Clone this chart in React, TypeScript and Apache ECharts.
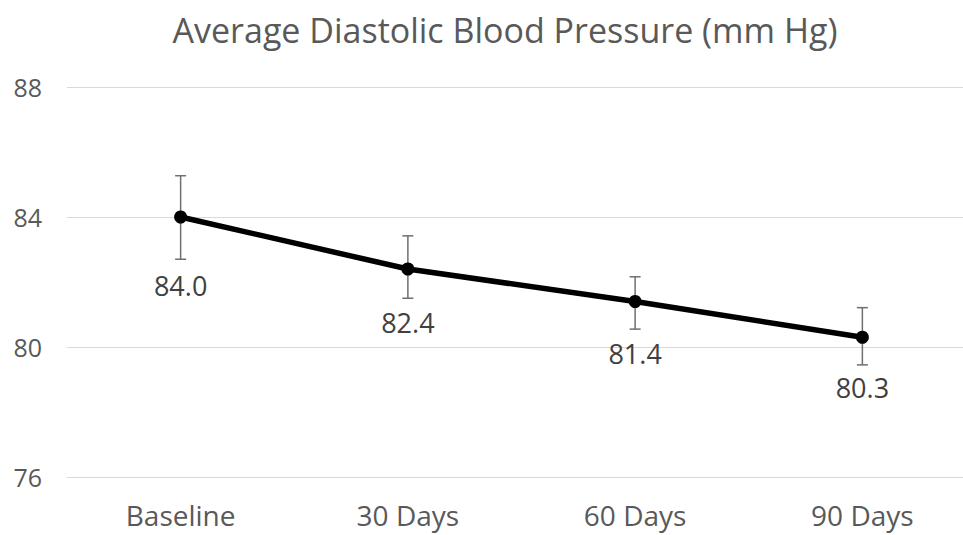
import React, { useEffect, useRef } from "react";
import * as echarts from "echarts";

const categories = ["Baseline", "30 Days", "60 Days", "90 Days"];
const values = [84.0, 82.4, 81.4, 80.3];
const errorLow = [82.7, 81.5, 80.55, 79.45];
const errorHigh = [85.27, 83.42, 82.16, 81.21];
const yTicks = { min: 76, max: 88, interval: 4 };
const titleText = "Average Diastolic Blood Pressure (mm Hg)";

// label offsets (style only)
const labelDistances = [48, 33, 32, 30];

export default function App() {
  const ref = useRef<HTMLDivElement>(null);
  useEffect(() => {
    if (!ref.current) return;
    const chart = echarts.init(ref.current, null, { renderer: "svg" });
    const errData = categories.map((_, i) => [i, errorLow[i], errorHigh[i]]);
    const lineData = values.map((v, i) => ({ value: v, label: { distance: labelDistances[i] } }));
    chart.setOption({
      animation: false,
      backgroundColor: "#ffffff",
      textStyle: { fontFamily: "Open Sans" },
      title: {
        text: titleText,
        left: 500,
        textAlign: "center",
        top: 8,
        textStyle: { fontSize: 34, fontWeight: "normal", color: "#595959", fontFamily: "Open Sans" },
      },
      grid: { left: 67, top: 87, right: 0, bottom: 58, containLabel: false },
      xAxis: {
        type: "category",
        data: categories,
        axisLine: { show: true, lineStyle: { color: "#d9d9d9", width: 1 } },
        axisTick: { show: false },
        axisLabel: { fontSize: 28, lineHeight: 28, color: "#595959", margin: 24, fontFamily: "Open Sans" },
      },
      yAxis: {
        type: "value",
        min: yTicks.min,
        max: yTicks.max,
        interval: yTicks.interval,
        axisLine: { show: false },
        axisTick: { show: false },
        splitLine: { lineStyle: { color: "#d9d9d9", width: 1 } },
        axisLabel: { fontSize: 25, color: "#595959", margin: 25, fontFamily: "Open Sans" },
      },
      series: [
        {
          type: "custom",
          z: 1,
          data: errData,
          renderItem: (params: any, api: any) => {
            const x = api.value(0);
            const lo = api.coord([x, api.value(1)]);
            const hi = api.coord([x, api.value(2)]);
            const cap = 5.5;
            const style = { stroke: "#6f6f6f", lineWidth: 1.5 };
            return {
              type: "group",
              children: [
                { type: "line", shape: { x1: hi[0], y1: hi[1], x2: lo[0], y2: lo[1] }, style },
                { type: "line", shape: { x1: hi[0] - cap, y1: hi[1], x2: hi[0] + cap, y2: hi[1] }, style },
                { type: "line", shape: { x1: lo[0] - cap, y1: lo[1], x2: lo[0] + cap, y2: lo[1] }, style },
              ],
            };
          },
        },
        {
          type: "line",
          z: 3,
          data: lineData,
          symbol: "circle",
          symbolSize: 13,
          lineStyle: { color: "#000000", width: 5.5 },
          itemStyle: { color: "#000000" },
          label: {
            show: true,
            position: "bottom",
            fontSize: 27,
            color: "#404040",
            fontFamily: "Open Sans",
            formatter: (p: any) => Number(p.value).toFixed(1),
          },
        },
      ],
    });
    return () => chart.dispose();
  }, []);
  return (
    <div
      ref={ref}
      style={{ position: "fixed", left: 0, top: 0, width: 976, height: 535 }}
    />
  );
}
